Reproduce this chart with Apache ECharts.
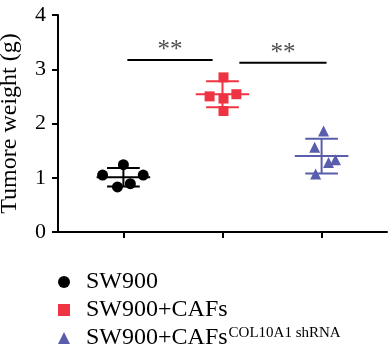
<!DOCTYPE html>
<html>
<head>
<meta charset="utf-8">
<script src="https://cdn.jsdelivr.net/npm/echarts@6/dist/echarts.min.js"></script>
<style>
  html, body { margin: 0; padding: 0; background: #fff; }
  #chart { width: 388px; height: 354px; }
</style>
</head>
<body>
<div id="chart"></div>
<script>
// groups and their x positions on the value axis
const groupNames = ['SW900', 'SW900+CAFs', 'SW900+CAFsCOL10A1'];
const groupX = [1, 2, 3];
const groupColors = ['#000000', '#ee3442', '#5a5dab'];
const groupSymbols = ['circle', 'rect', 'triangle'];

// tumour weights (g), with their horizontal jitter
const sw900 = [1.05, 1.24, 0.83, 0.89, 1.05];
const sw900Jitter = [-0.21, 0, -0.06, 0.07, 0.2];
const cafs = [2.85, 2.50, 2.46, 2.54, 2.23];
const cafsJitter = [0.01, -0.13, 0.01, 0.14, 0.01];
const shrna = [1.86, 1.56, 1.33, 1.28, 1.07];
const shrnaJitter = [0.02, -0.07, 0.14, 0.07, -0.06];

// mean and SD bars
const means = [1.01, 2.54, 1.40];
const sds = [0.17, 0.24, 0.32];

// significance brackets: [x1, x2, y] and star labels
const sigBars = [[1.04, 1.90, 3.17], [2.17, 3.05, 3.12]];
const sigLabels = ['**', '**'];

const yTicks = [0, 1, 2, 3, 4];
const serif = '"Liberation Serif", "DejaVu Serif", serif';

const values = [sw900, cafs, shrna];
const jitters = [sw900Jitter, cafsJitter, shrnaJitter];

const chart = echarts.init(document.getElementById('chart'));

const scatterSeries = values.map((vals, g) => ({
  name: groupNames[g],
  type: 'scatter',
  symbol: groupSymbols[g],
  symbolSize: g === 1 ? 10 : 11,
  itemStyle: { color: groupColors[g], opacity: 1 },
  data: vals.map((v, i) => [groupX[g] + jitters[g][i], v]),
  z: 3
}));

const errorSeries = {
  type: 'custom',
  silent: true,
  data: means.map((m, g) => [groupX[g], m, sds[g], g]),
  renderItem: (params, api) => {
    const x = api.value(0), m = api.value(1), sd = api.value(2), g = api.value(3);
    const c = groupColors[g];
    const style = { stroke: c, lineWidth: 2 };
    const seg = (x1, y1, x2, y2) => {
      const p1 = api.coord([x1, y1]);
      const p2 = api.coord([x2, y2]);
      return { type: 'line', shape: { x1: p1[0], y1: p1[1], x2: p2[0], y2: p2[1] }, style };
    };
    return {
      type: 'group',
      children: [
        seg(x - 0.27, m, x + 0.27, m),
        seg(x - 0.165, m + sd, x + 0.165, m + sd),
        seg(x - 0.165, m - sd, x + 0.165, m - sd),
        seg(x, m - sd, x, m + sd)
      ]
    };
  },
  z: 2
};

const bracketSeries = sigBars.map(b => ({
  type: 'line',
  silent: true,
  symbol: 'none',
  lineStyle: { color: '#000', width: 2 },
  data: [[b[0], b[2]], [b[1], b[2]]]
}));

const starSeries = {
  type: 'scatter',
  silent: true,
  symbolSize: 0,
  data: sigBars.map((b, i) => ({ value: [(b[0] + b[1]) / 2, b[2] + 0.18], name: sigLabels[i] })),
  label: {
    show: true,
    position: 'inside',
    formatter: p => p.name,
    color: '#222',
    fontFamily: serif,
    fontSize: 25
  }
};

// one legend per group so the column never wraps
const legendTops = [270, 298, 326];
const legends = groupNames.map((n, g) => ({
  orient: 'vertical',
  left: 58,
  top: legendTops[g],
  padding: 0,
  itemWidth: 12,
  itemHeight: 12,
  selectedMode: false,
  data: [{ name: n, icon: groupSymbols[g] }],
  formatter: name => name === groupNames[2]
    ? '{m|SW900+CAFs}{s|COL10A1 shRNA}'
    : '{m|' + name + '}',
  textStyle: {
    padding: [0, 0, 0, 11],
    rich: {
      m: { fontFamily: serif, fontSize: 24, color: '#000', lineHeight: 24 },
      s: { fontFamily: serif, fontSize: 15, color: '#000', lineHeight: 15, verticalAlign: 'top', padding: [0, 0, 5, 1] }
    }
  }
}));

chart.setOption({
  animation: false,
  grid: { left: 58, right: 1, top: 15, bottom: 122, outerBoundsMode: 'none', containLabel: false },
  legend: legends,
  xAxis: {
    type: 'value',
    min: 0.34,
    max: 3.66,
    splitLine: { show: false },
    axisLine: { show: true, onZero: false, lineStyle: { color: '#000', width: 2 } },
    axisTick: { show: true, customValues: groupX, length: 6, lineStyle: { color: '#000', width: 2 } },
    axisLabel: { show: false }
  },
  yAxis: {
    type: 'value',
    min: 0,
    max: 4,
    interval: 1,
    name: 'Tumore weight (g)',
    nameLocation: 'middle',
    nameGap: 36,
    nameTextStyle: { fontFamily: serif, fontSize: 24, color: '#000' },
    splitLine: { show: false },
    axisLine: { show: true, lineStyle: { color: '#000', width: 2 } },
    axisTick: { show: true, length: 6, lineStyle: { color: '#000', width: 2 } },
    axisLabel: {
      fontFamily: serif, fontSize: 22, color: '#000', margin: 12,
      formatter: v => yTicks.includes(v) ? String(v) : ''
    }
  },
  series: [...scatterSeries, errorSeries, ...bracketSeries, starSeries]
});
</script>
</body>
</html>
